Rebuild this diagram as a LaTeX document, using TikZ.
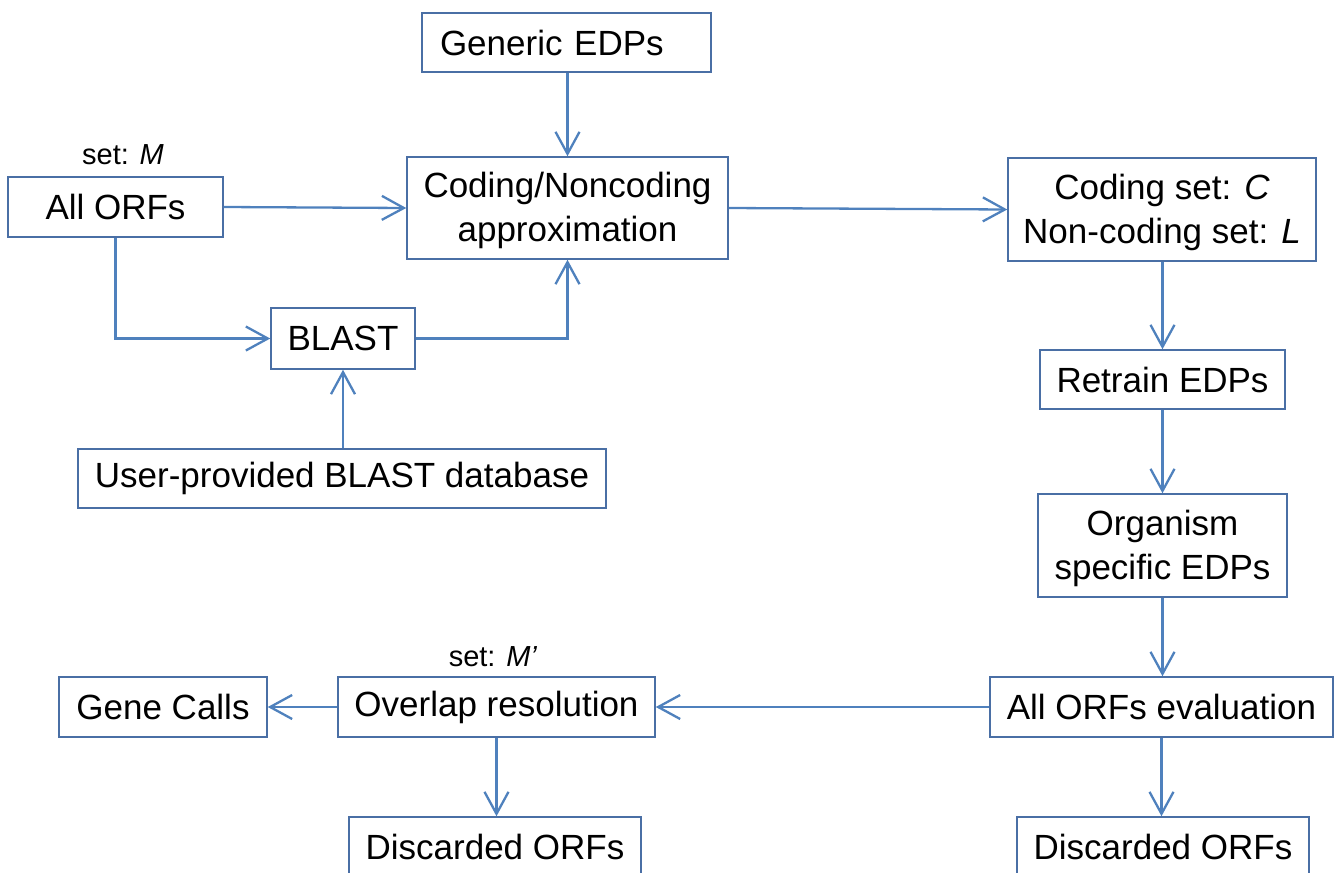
\documentclass[tikz,border=0pt]{standalone}
\usepackage{fontspec}
\setmainfont{Liberation Sans}
\usetikzlibrary{arrows.meta}
\definecolor{boxline}{HTML}{4A6FA5}
\definecolor{arrowline}{HTML}{4F81BD}
\begin{document}
\begin{tikzpicture}[x=1pt,y=-1pt,
  box/.style={draw=boxline, line width=1.5pt, fill=white, inner sep=0pt,
    align=center, font=\fontsize{35}{44}\selectfont},
  flow/.style={draw=arrowline, line width=2.3pt,
    -{Straight Barb[length=22pt,width=24pt,line width=2.3pt]}},
  setlabel/.style={font=\fontsize{29}{32}\selectfont, inner sep=0pt}]
\useasboundingbox (0,0) rectangle (1334,873);
\clip (0,0) rectangle (1334,873);

% upper part: approximation stage
\node[box, minimum width=289pt, minimum height=59pt, text width=253pt,
  inner xsep=18pt, align=left] (gen) at (566.5,42.5) {Generic EDPs};
\node[box, minimum width=321pt, minimum height=102pt] (cod) at (567.5,208)
  {\strut Coding/Noncoding\\approximation};
\node[box, minimum width=215pt, minimum height=60pt] (all) at (115.5,207) {All ORFs};
\node[setlabel] (setm) at (123,155) {set: \textit{M}};
\node[box, minimum width=144pt, minimum height=61pt] (blast) at (343,338.5) {BLAST};
\node[box, minimum width=528pt, minimum height=59pt] (udb) at (342,478.5)
  {User-provided BLAST database};

% right column: retraining stage
\node[box, minimum width=308pt, minimum height=103pt] (cset) at (1162,209.5)
  {\strut Coding set: \textit{C}\\Non-coding set: \textit{L}};
\node[box, minimum width=245pt, minimum height=59pt] (retr) at (1162.5,379.5) {Retrain EDPs};
\node[box, minimum width=249pt, minimum height=103pt] (org) at (1162.5,545.5)
  {\strut Organism\\specific EDPs};
\node[box, minimum width=343pt, minimum height=60pt] (eval) at (1161.5,707) {All ORFs evaluation};
\node[box, minimum width=292pt, minimum height=60pt] (dr) at (1163,847) {Discarded ORFs};

% bottom row: overlap resolution
\node[box, minimum width=317pt, minimum height=60pt] (ovl) at (496.5,707) {Overlap resolution};
\node[setlabel] (setmp) at (493,657) {set: \textit{M'}};
\node[box, minimum width=208pt, minimum height=60pt] (gene) at (163,707) {Gene Calls};
\node[box, minimum width=292pt, minimum height=60pt] (dl) at (495,847) {Discarded ORFs};

% connectors
\draw[flow] (gen.south -| cod.north) -- (cod.north);
\draw[flow] (all.east) -- (cod.west);
\draw[flow] (all.south) |- (blast.west);
\draw[flow] (blast.east) -| (cod.south);
\draw[flow] (udb.north -| blast.south) -- (blast.south);
\draw[flow] (cod.east) -- (cset.west);
\draw[flow] (cset.south -| retr.north) -- (retr.north);
\draw[flow] (retr.south) -- (org.north);
\draw[flow] (org.south) -- (eval.north -| org.south);
\draw[flow] (eval.west) -- (ovl.east);
\draw[flow] (ovl.west) -- (gene.east);
\draw[flow] (ovl.south) -- (dl.north -| ovl.south);
\draw[flow] (eval.south) -- (dr.north -| eval.south);
\end{tikzpicture}
\end{document}
